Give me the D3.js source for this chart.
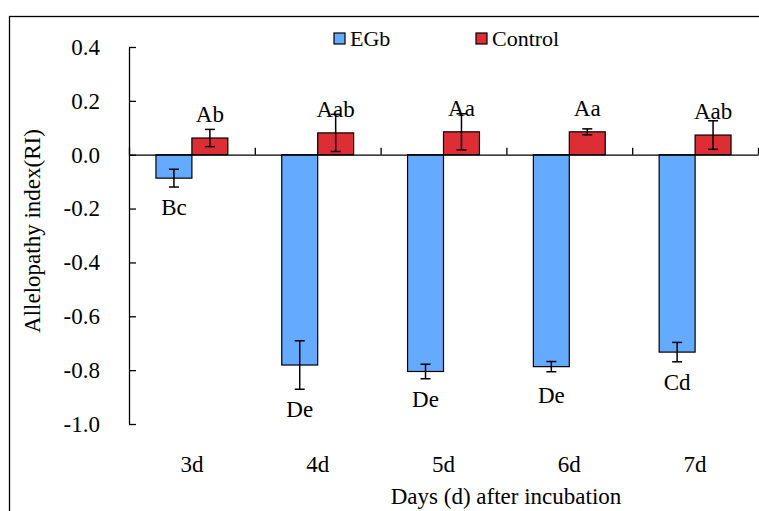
<!DOCTYPE html>
<meta charset="utf-8">
<title>Allelopathy index</title>
<style>
body { margin: 0; background: #fff; }
</style>
<script src="https://d3js.org/d3.v7.min.js"></script>
<body>
<script>
var width = 759;
var height = 511;
var serif = "'Liberation Serif', 'Times New Roman', serif";

// data
var days = ["3d", "4d", "5d", "6d", "7d"];
var series = ["EGb", "Control"];
var egb = [-0.087, -0.781, -0.805, -0.787, -0.733];
var egbErr = [0.033, 0.090, 0.027, 0.019, 0.036];
var control = [0.062, 0.081, 0.085, 0.085, 0.073];
var controlErr = [0.032, 0.069, 0.067, 0.011, 0.053];
var egbLetters = ["Bc", "De", "De", "De", "Cd"];
var controlLetters = ["Ab", "Aab", "Aa", "Aa", "Aab"];
var yTicks = [0.4, 0.2, 0.0, -0.2, -0.4, -0.6, -0.8, -1.0];

var colors = { EGb: "#64aaff", Control: "#dd2e36" };

var svg = d3.select("body").append("svg")
    .attr("width", width)
    .attr("height", height)
    .attr("font-family", serif);

// outer frame (runs past the right and bottom edge)
svg.append("rect")
    .attr("x", 9.5).attr("y", 16.5)
    .attr("width", 770).attr("height", 520)
    .attr("fill", "none")
    .attr("stroke", "#000")
    .attr("stroke-width", 1.3);

var y = d3.scaleLinear().domain([-1, 0.4]).range([424, 47]);
var x = d3.scaleBand().domain(days).range([129, 758]);
var x1 = d3.scaleBand().domain(series).range([0, x.bandwidth()]).paddingOuter(0.75);

// y axis, ticks pointing inward
var fmt = function(v) { return d3.format(".1f")(v).replace("\u2212", "-"); };
var yAxis = d3.axisLeft(y)
    .tickValues(yTicks)
    .tickSize(-7)
    .tickSizeOuter(0)
    .tickPadding(29)
    .tickFormat(fmt);
var gy = svg.append("g")
    .attr("transform", "translate(129,0)")
    .call(yAxis)
    .attr("font-family", serif)
    .attr("font-size", 23);
gy.selectAll("text").attr("fill", "#000");
gy.selectAll("line, path").attr("stroke", "#000").attr("stroke-width", 1.3);

// bars
var rows = days.map(function(d, i) {
  return [
    { day: d, s: "EGb", v: egb[i], e: egbErr[i], lab: egbLetters[i] },
    { day: d, s: "Control", v: control[i], e: controlErr[i], lab: controlLetters[i] }
  ];
});
var flat = [].concat.apply([], rows);

var g = svg.append("g");
g.selectAll("rect.bar")
    .data(flat)
  .enter().append("rect")
    .attr("class", "bar")
    .attr("x", function(d) { return x(d.day) + x1(d.s); })
    .attr("width", x1.bandwidth())
    .attr("y", function(d) { return y(Math.max(0, d.v)); })
    .attr("height", function(d) { return Math.abs(y(d.v) - y(0)); })
    .attr("fill", function(d) { return colors[d.s]; })
    .attr("stroke", "#000")
    .attr("stroke-width", 1.2);

// zero line with category dividers
var xb = d3.scaleLinear().domain([0, days.length]).range(x.range());
var gx0 = svg.append("g")
    .attr("transform", "translate(0," + y(0) + ")")
    .call(d3.axisTop(xb).ticks(days.length).tickSize(7).tickSizeOuter(0).tickFormat(""));
gx0.selectAll("line, path").attr("stroke", "#000").attr("stroke-width", 1.3);

// error bars
var cx = function(d) { return x(d.day) + x1(d.s) + x1.bandwidth() / 2; };
var eb = g.selectAll("g.err")
    .data(flat)
  .enter().append("g")
    .attr("class", "err")
    .attr("stroke", "#000")
    .attr("stroke-width", 1.5);
eb.append("line")
    .attr("x1", cx).attr("x2", cx)
    .attr("y1", function(d) { return y(d.v + d.e); })
    .attr("y2", function(d) { return y(d.v - d.e); });
eb.append("line")
    .attr("x1", function(d) { return cx(d) - 5; })
    .attr("x2", function(d) { return cx(d) + 5; })
    .attr("y1", function(d) { return y(d.v + d.e); })
    .attr("y2", function(d) { return y(d.v + d.e); });
eb.append("line")
    .attr("x1", function(d) { return cx(d) - 5; })
    .attr("x2", function(d) { return cx(d) + 5; })
    .attr("y1", function(d) { return y(d.v - d.e); })
    .attr("y2", function(d) { return y(d.v - d.e); });

// significance letters
g.selectAll("text.lab")
    .data(flat)
  .enter().append("text")
    .attr("class", "lab")
    .attr("text-anchor", "middle")
    .attr("font-family", serif)
    .attr("font-size", 23)
    .attr("x", cx)
    .attr("y", function(d) {
      if (d.v >= 0) return y(d.v) - 16;
      return Math.max(y(d.v) + 36, y(d.v - d.e) + 28);
    })
    .text(function(d) { return d.lab; });

// category labels
var gx = svg.append("g")
    .attr("transform", "translate(0,424)")
    .call(d3.axisBottom(x).tickSize(0).tickPadding(32))
    .attr("font-family", serif)
    .attr("font-size", 23);
gx.select(".domain").remove();
gx.selectAll("text").attr("fill", "#000");

// axis titles
svg.append("text")
    .attr("x", 506).attr("y", 504)
    .attr("text-anchor", "middle")
    .attr("font-family", serif)
    .attr("font-size", 23)
    .text("Days (d) after incubation");
svg.append("text")
    .attr("transform", "translate(40,231) rotate(-90)")
    .attr("text-anchor", "middle")
    .attr("font-family", serif)
    .attr("font-size", 23)
    .text("Allelopathy index(RI)");

// legend
var legX = [334, 476];
var leg = svg.selectAll("g.leg")
    .data(series)
  .enter().append("g")
    .attr("class", "leg")
    .attr("transform", function(d, i) { return "translate(" + legX[i] + ",33)"; });
leg.append("rect")
    .attr("width", 11).attr("height", 11)
    .attr("fill", function(d) { return colors[d]; })
    .attr("stroke", "#000")
    .attr("stroke-width", 1.2);
leg.append("text")
    .attr("x", 16).attr("y", 13)
    .attr("font-family", serif)
    .attr("font-size", 22)
    .text(function(d) { return d; });
</script>
</body>
